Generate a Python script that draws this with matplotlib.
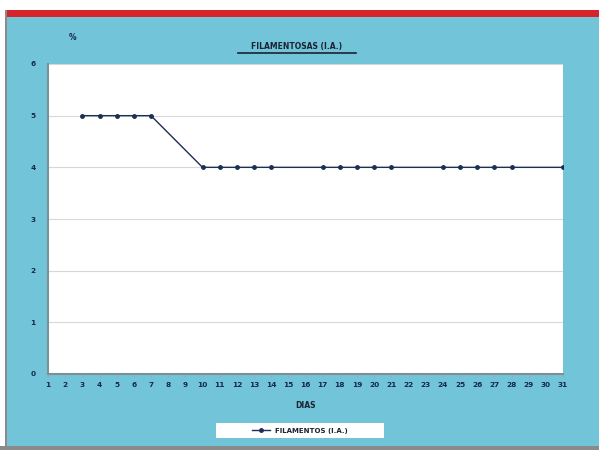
import matplotlib.pyplot as plt
from matplotlib.patches import Rectangle
from matplotlib.lines import Line2D

dias = list(range(1, 32))
dias_medidos = [3, 4, 5, 6, 7, 10, 11, 12, 13, 14, 17, 18, 19, 20, 21,
                24, 25, 26, 27, 28, 31]
filamentos = [5, 5, 5, 5, 5, 4, 4, 4, 4, 4, 4, 4, 4, 4, 4,
              4, 4, 4, 4, 4, 4]
y_ticks = [0, 1, 2, 3, 4, 5, 6]

fondo = '#72c5d8'
azul = '#1c2f55'

fig = plt.figure(figsize=(5.99, 4.5), dpi=100, facecolor=fondo)

# franja blanca y roja arriba, bordes grises
fig.patches.append(Rectangle((0, 1 - 10 / 450), 1, 10 / 450, transform=fig.transFigure,
                             facecolor='white', edgecolor='none', zorder=0))
fig.patches.append(Rectangle((0, 1 - 17 / 450), 1, 7 / 450, transform=fig.transFigure,
                             facecolor='#d7232a', edgecolor='none', zorder=0))
fig.patches.append(Rectangle((0, 0), 6 / 599, 1, transform=fig.transFigure,
                             facecolor='white', edgecolor='none', zorder=0))
fig.patches.append(Rectangle((5 / 599, 0), 2 / 599, 1 - 10 / 450, transform=fig.transFigure,
                             facecolor='#8a8a8a', edgecolor='none', zorder=1))
fig.patches.append(Rectangle((0, 0), 1, 4 / 450, transform=fig.transFigure,
                             facecolor='#8a8a8a', edgecolor='none', zorder=1))
# caja blanca de la leyenda
fig.patches.append(Rectangle((216 / 599, 1 - 438 / 450), 168 / 599, 15 / 450,
                             transform=fig.transFigure, facecolor='white',
                             edgecolor='none', zorder=1))

ax = fig.add_axes([48 / 599, 1 - 374 / 450, 515 / 599, 310 / 450])
ax.set_facecolor('white')
ax.plot(dias_medidos, filamentos, color=azul, linewidth=1.0, marker='o',
        markersize=2.5, label='FILAMENTOS (I.A.)')

ax.set_xlim(1, 31)
ax.set_ylim(0, 6)
ax.set_xticks(dias)
ax.set_yticks(y_ticks)
ax.grid(axis='y', color='#d8d8d8', linewidth=0.8)
ax.set_axisbelow(True)
for s in ['top', 'right']:
    ax.spines[s].set_visible(False)
ax.spines['left'].set_color('#7f8f95')
ax.spines['bottom'].set_color('#7f8f95')
ax.spines['left'].set_linewidth(1.5)
ax.spines['bottom'].set_linewidth(1.5)
ax.tick_params(axis='both', labelsize=5.3, labelcolor='#17284a', color='#9aa5a8', length=2, width=0.6)
ax.tick_params(axis='y', length=0, pad=9)
ax.tick_params(axis='x', pad=4)
for lab in ax.get_xticklabels() + ax.get_yticklabels():
    lab.set_fontweight('bold')

fig.text(73 / 599, 1 - 38 / 450, '%', fontsize=5.5, fontweight='bold', color='#17284a',
         ha='center', va='center')
fig.text(297 / 599, 1 - 47 / 450, 'FILAMENTOSAS (I.A.)', fontsize=5.5, fontweight='bold',
         color='#1a2333', ha='center', va='center')
fig.lines.append(Line2D([238 / 599, 356 / 599], [1 - 53 / 450, 1 - 53 / 450],
                        transform=fig.transFigure, color='#1a2333', linewidth=1.2))
fig.text(305 / 599, 1 - 405 / 450, 'DIAS', fontsize=5.5, fontweight='bold', color='#1a2333',
         ha='center', va='center')

leg = fig.legend(loc='center', bbox_to_anchor=(300 / 599, 1 - 430.5 / 450), fontsize=5,
                 frameon=False, handlelength=2.5, borderaxespad=0)
for t in leg.get_texts():
    t.set_fontweight('bold')
    t.set_color('#1a2333')

fig.savefig('out.png', dpi=100, facecolor=fondo)
